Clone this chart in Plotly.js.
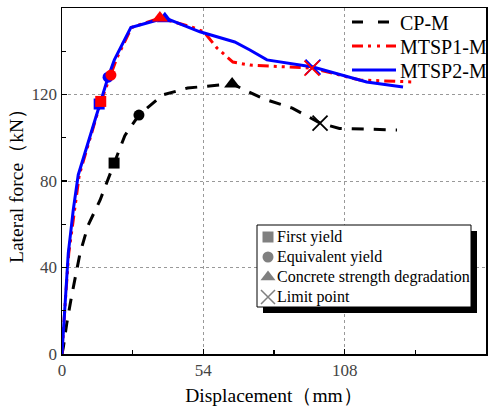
<!DOCTYPE html>
<html><head><meta charset="utf-8">
<script src="https://cdn.plot.ly/plotly-3.0.1.min.js"></script>
<style>html,body{margin:0;padding:0;background:#fff}#chart{width:496px;height:409px}</style>
</head><body><div id="chart"></div>
<script>
// ---- data ----
const cpX = [0, 0.5, 1.8, 3.7, 6.9, 10, 14.5, 19.9, 24, 29.4, 38.5, 48, 65, 77, 88, 98.6, 106, 128];
const cpY = [0, 3, 14, 27, 46.6, 59.6, 71, 88.3, 101, 110.5, 119.8, 123, 124.9, 118, 113.7, 106.8, 104.3, 103.6];
const m1X = [0, 0.6, 1.3, 2.6, 3.6, 4.7, 6.6, 14.8, 18.7, 21, 26.6, 37.4, 50, 54.2, 59.2, 65.3, 71.8, 87, 95.5, 113.8, 134];
const m1Y = [0, 9.7, 25, 46.7, 56, 66.6, 82.8, 116.5, 129, 137, 151, 155.4, 151, 149, 141.5, 135, 133.6, 132.7, 132.2, 126.7, 125.8];
const m2X = [0, 0.5, 1.1, 2.4, 3.3, 4.3, 6.2, 14.5, 17.6, 20, 26.3, 39.3, 52.7, 66, 71.8, 78.3, 95.9, 116.4, 130.3];
const m2Y = [0, 9.7, 25, 46.7, 56, 66.6, 82.8, 115, 128, 136, 151, 155.4, 149, 144.3, 140.6, 136, 132.7, 125.8, 123.5];
// characteristic points: [first yield, equivalent yield, concrete strength degradation, limit point]
const cpPtX = [19.9, 29.4, 65, 98.6];   const cpPtY = [88.3, 110.5, 124.9, 106.8];
const m1PtX = [14.8, 18.7, 37.4, 95.5]; const m1PtY = [116.8, 129, 155.4, 132.2];
const m2PtX = [14.2, 17.6, 39.3, 95.9]; const m2PtY = [115.6, 128, 155, 132.7];
const seriesNames = ['CP-M', 'MTSP1-M', 'MTSP2-M'];
const pointNames = ['First yield', 'Equivalent yield', 'Concrete strength degradation', 'Limit point'];
const xTicks = [0, 54, 108, 162];
const yTicks = [0, 40, 80, 120, 160];

const symbols = ['square', 'circle', 'triangle-up', 'x-thin-open'];
const sizes = [11, 11, 14, 15];
function pts(xs, ys, color) {
  return xs.map((x, i) => ({
    x: [x], y: [ys[i]], mode: 'markers', type: 'scatter', showlegend: false,
    marker: { symbol: symbols[i], size: sizes[i], color: color,
      line: { color: color, width: i === 3 ? 1.8 : 0 } },
    hoverinfo: 'skip'
  }));
}
const serif = "'Liberation Serif'";
const colors = ['#000000', '#ff0000', '#0000ff'];
const dashes = ['12px,10px', '11px,5px,3px,5px,3px,5px', 'solid'];
const traces = [
  { x: cpX, y: cpY, name: seriesNames[0], mode: 'lines', showlegend: false, line: { color: colors[0], width: 3, dash: dashes[0] } },
  { x: m1X, y: m1Y, name: seriesNames[1], mode: 'lines', showlegend: false, line: { color: colors[1], width: 3, dash: dashes[1] } },
  { x: m2X, y: m2Y, name: seriesNames[2], mode: 'lines', showlegend: false, line: { color: colors[2], width: 3, dash: dashes[2] } },
  ...pts(cpPtX, cpPtY, colors[0]),
  ...pts(m2PtX, m2PtY, colors[2]),
  ...pts(m1PtX, m1PtY, colors[1])
];
// ---- legends drawn on a pixel-unit overlay axis pair ----
const annotations = [];
// series legend (top right)
const serLegY = [22, 46, 70];
const serLegDash = ['11px,15px', '11px,5px,3px,6px,3px,6px', 'solid'];
seriesNames.forEach((n, i) => {
  traces.push({ x: [352, 396], y: [serLegY[i], serLegY[i]], xaxis: 'x2', yaxis: 'y2', mode: 'lines', showlegend: false,
    line: { color: colors[i], width: 3, dash: serLegDash[i] }, hoverinfo: 'skip' });
  annotations.push({ xref: 'x2', yref: 'y2', x: 398, y: serLegY[i] + 1, text: n, showarrow: false, xanchor: 'left', yanchor: 'middle',
    font: { family: serif, size: 20, color: '#000' } });
});
// characteristic point key (boxed)
const keyY = [237, 257, 277, 297];
const keySizes = [11, 11, 13, 14];
symbols.forEach((s, i) => {
  traces.push({ x: [268], y: [keyY[i]], xaxis: 'x2', yaxis: 'y2', mode: 'markers', showlegend: false,
    marker: { symbol: s, size: keySizes[i], color: '#808080', line: { color: '#808080', width: i === 3 ? 1.5 : 0 } },
    hoverinfo: 'skip' });
  annotations.push({ xref: 'x2', yref: 'y2', x: 275, y: keyY[i], text: pointNames[i], showarrow: false, xanchor: 'left', yanchor: 'middle',
    font: { family: serif, size: 16, color: '#000' } });
});
// key box in main data units (pixel box 257..471 x 225..307, shadow offset 6px)
const px2x = p => (p - 62) * 162 / 424;
const px2y = p => (354 - p) * 160 / 346;
const shapes = [
  { type: 'rect', xref: 'x', yref: 'y', x0: px2x(263), x1: px2x(477), y0: px2y(313), y1: px2y(231), fillcolor: '#000', line: { width: 0 }, layer: 'between' },
  { type: 'rect', xref: 'x', yref: 'y', x0: px2x(257), x1: px2x(471), y0: px2y(307), y1: px2y(225), fillcolor: '#fff', line: { color: '#000', width: 1 }, layer: 'between' }
];
const axisCommon = {
  showline: true, linecolor: '#000', linewidth: 1.5, mirror: true,
  ticks: 'inside', ticklen: 5, tickwidth: 1.2, tickcolor: '#000',
  showgrid: true, gridcolor: '#999', griddash: 'dot', gridwidth: 1,
  zeroline: false, tickfont: { family: serif, size: 17, color: '#444' }
};
const layout = {
  width: 496, height: 409,
  margin: { l: 62, r: 10, t: 8, b: 55 },
  paper_bgcolor: '#fff', plot_bgcolor: '#fff',
  font: { family: serif },
  showlegend: false,
  xaxis: Object.assign({}, axisCommon, { range: [0, 162], tickvals: xTicks,
    minor: { ticks: 'inside', ticklen: 4, tickwidth: 1.2, tickcolor: '#000', dtick: 27, showgrid: false },
    title: { text: 'Displacement（mm）', font: { family: serif, size: 19.5, color: '#000' }, standoff: 9 } }),
  yaxis: Object.assign({}, axisCommon, { range: [0, 160], tickvals: yTicks,
    minor: { ticks: 'inside', ticklen: 4, tickwidth: 1.2, tickcolor: '#000', dtick: 20, showgrid: false },
    title: { text: 'Lateral force（kN）', font: { family: serif, size: 19.5, color: '#000' }, standoff: 3 } }),
  xaxis2: { overlaying: 'x', range: [62, 486], visible: false, fixedrange: true },
  yaxis2: { overlaying: 'y', range: [354, 8], visible: false, fixedrange: true },
  shapes: shapes, annotations: annotations
};
Plotly.newPlot('chart', traces, layout, { displayModeBar: false, staticPlot: true });
</script></body></html>
